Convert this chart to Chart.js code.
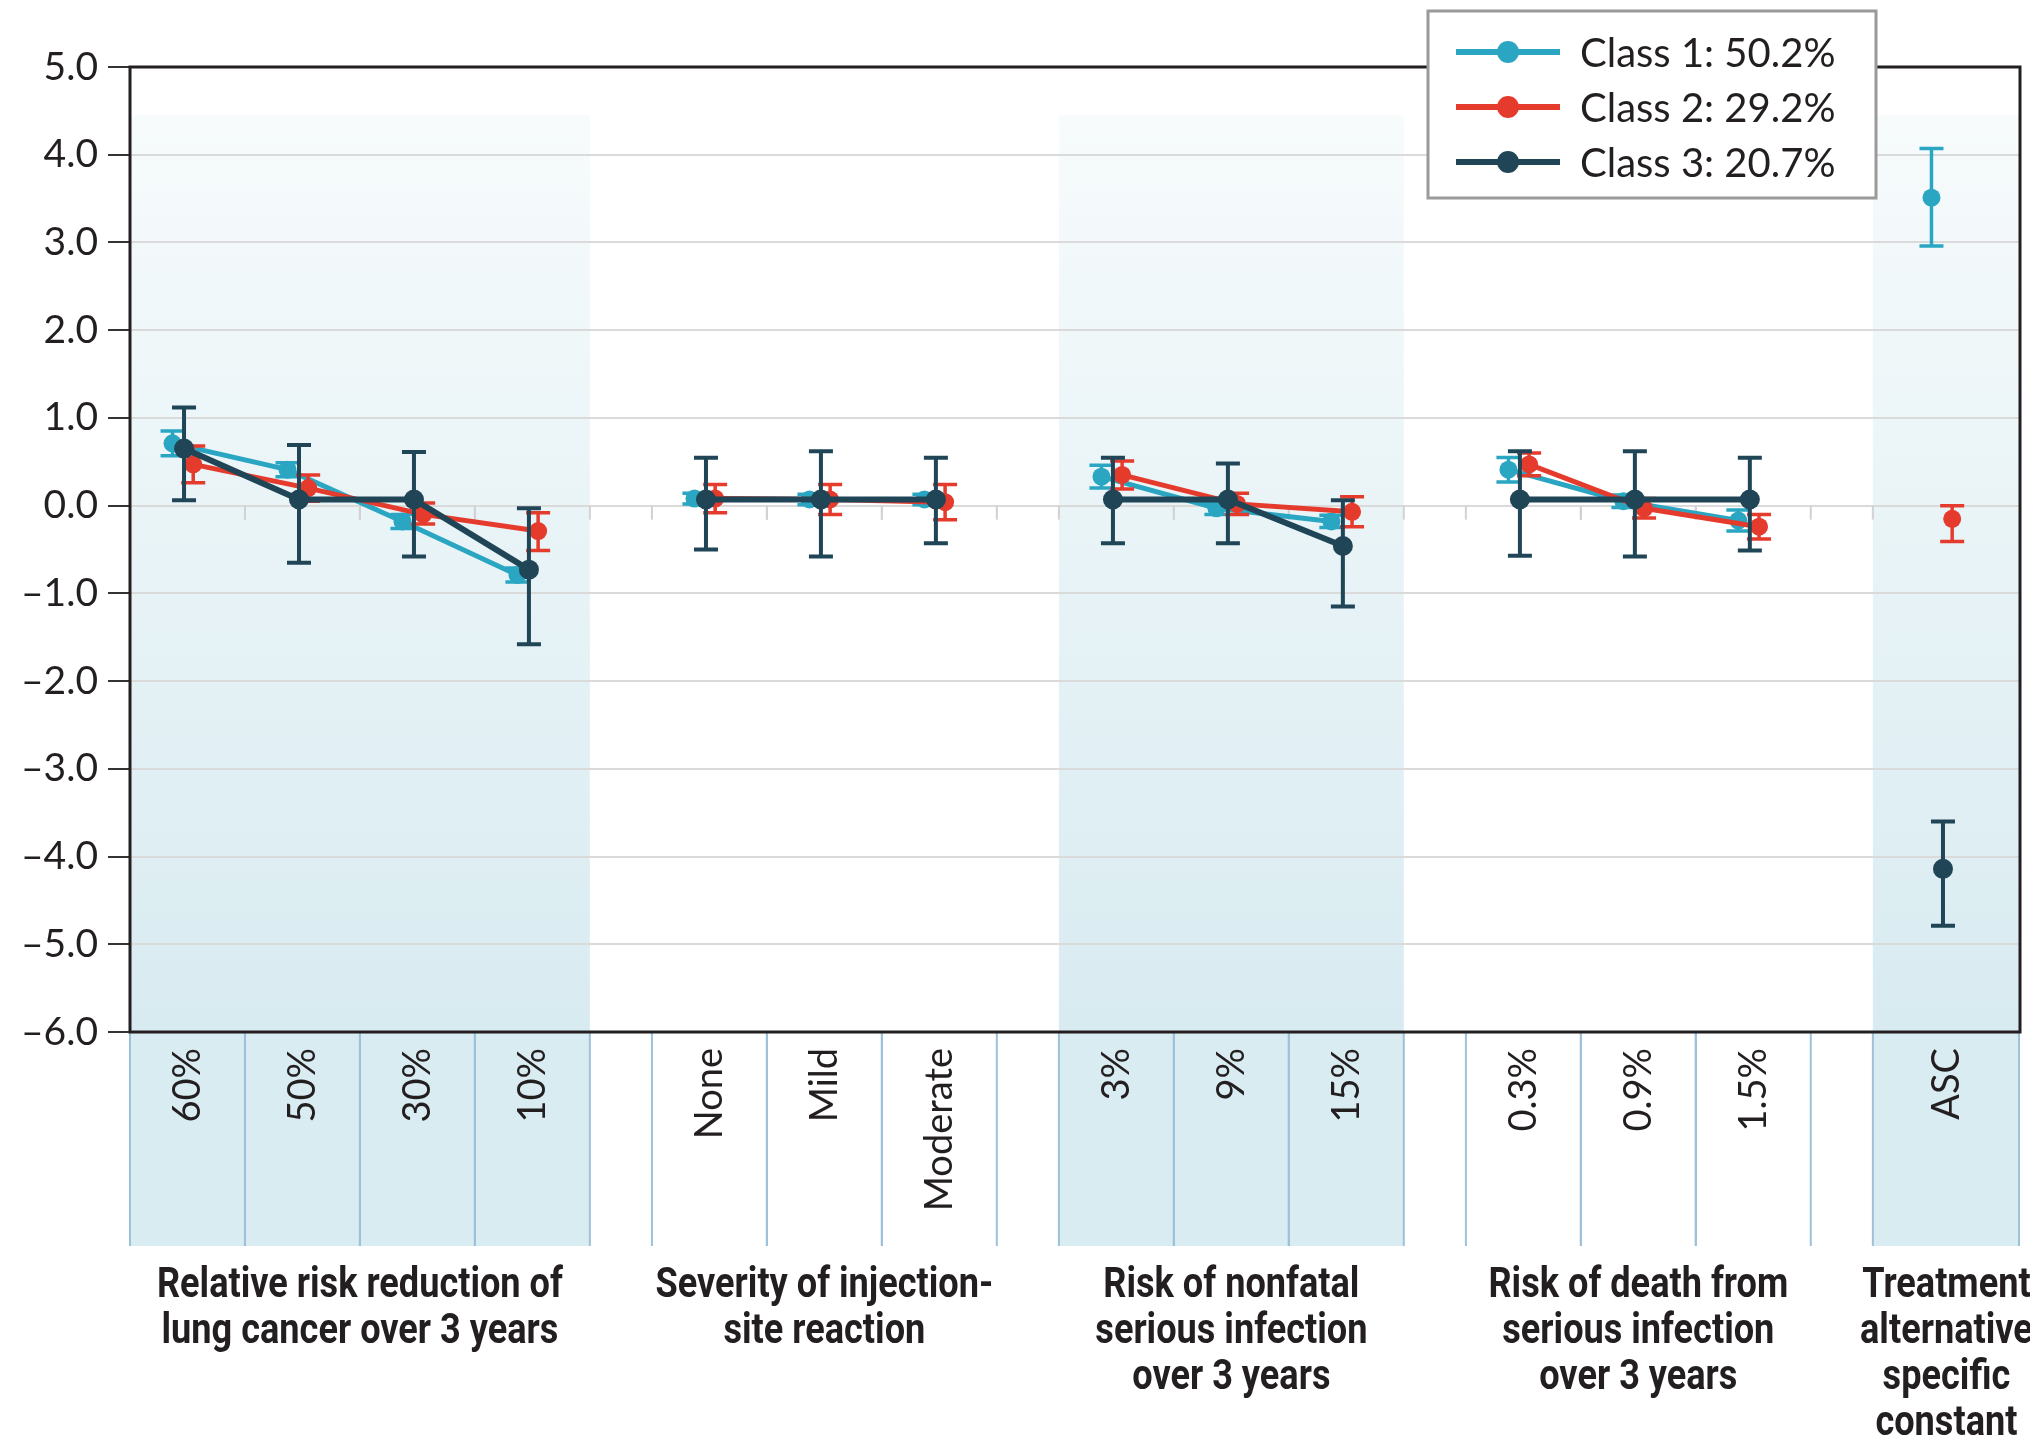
<!DOCTYPE html>
<html>
<head>
<meta charset="utf-8">
<script src="https://cdn.jsdelivr.net/npm/chart.js@4.4.1/dist/chart.umd.min.js"></script>
<style>
  html, body { margin: 0; padding: 0; background: #fff; }
  #wrap { width: 2030px; height: 1445px; position: relative; }
</style>
</head>
<body>
<div id="wrap"><canvas id="prefChart"></canvas></div>
<script>
// categories and groups
const categories = ['60%', '50%', '30%', '10%', 'None', 'Mild', 'Moderate', '3%', '9%', '15%', '0.3%', '0.9%', '1.5%', 'ASC'];
const groupSizes = [4, 3, 3, 3, 1];
const groupNames = [
    ['Relative risk reduction of', 'lung cancer over 3 years'],
    ['Severity of injection-', 'site reaction'],
    ['Risk of nonfatal', 'serious infection', 'over 3 years'],
    ['Risk of death from', 'serious infection', 'over 3 years'],
    ['Treatment', 'alternative', 'specific', 'constant']
];
const yTicks = [5, 4, 3, 2, 1, 0, -1, -2, -3, -4, -5, -6];

// series: estimate, lower and upper bound
const class1 = [0.71, 0.41, -0.18, -0.79, 0.08, 0.07, 0.07, 0.33, -0.03, -0.18, 0.41, 0.05, -0.17, 3.51];
const class1Low = [0.57, 0.33, -0.26, -0.87, 0.02, 0.01, 0.01, 0.20, -0.10, -0.25, 0.27, -0.02, -0.29, 2.96];
const class1High = [0.85, 0.49, -0.10, -0.71, 0.14, 0.13, 0.13, 0.46, 0.04, -0.11, 0.55, 0.12, -0.05, 4.07];

const class2 = [0.47, 0.20, -0.10, -0.29, 0.08, 0.07, 0.04, 0.35, 0.02, -0.07, 0.47, -0.03, -0.24, -0.15];
const class2Low = [0.26, 0.05, -0.21, -0.51, -0.08, -0.10, -0.16, 0.19, -0.10, -0.24, 0.34, -0.14, -0.38, -0.41];
const class2High = [0.68, 0.35, 0.03, -0.08, 0.24, 0.24, 0.24, 0.51, 0.14, 0.10, 0.60, 0.08, -0.10, 0.00];

const class3 = [0.65, 0.07, 0.07, -0.73, 0.07, 0.07, 0.07, 0.07, 0.07, -0.46, 0.07, 0.07, 0.07, -4.14];
const class3Low = [0.06, -0.65, -0.58, -1.58, -0.50, -0.58, -0.43, -0.43, -0.43, -1.15, -0.57, -0.58, -0.51, -4.79];
const class3High = [1.12, 0.69, 0.61, -0.03, 0.545, 0.62, 0.545, 0.545, 0.48, 0.06, 0.62, 0.62, 0.545, -3.60];

const seriesLabels = ['Class 1: 50.2%', 'Class 2: 29.2%', 'Class 3: 20.7%'];
const colors = ['#2aa6c3', '#e53b2d', '#1f4556'];

// column layout on a linear x axis (one unit per column)
const GAP = 0.54;
const X_MAX = 16.44;
const shaded = [0, 2, 4];

const cols = [];
const groups = [];
let cursor = 0;
groupSizes.forEach((n, g) => {
    const start = cursor;
    for (let i = 0; i < n; i++) {
        cols.push({ g, left: cursor, right: cursor + 1 });
        cursor += 1;
    }
    groups.push({ start, end: cursor });
    cursor += GAP;
});
cols[cols.length - 1].right = X_MAX;
groups[groups.length - 1].end = X_MAX;
cols.forEach(c => c.center = (c.left + c.right) / 2);

const offsets = [-0.13, 0.05, -0.03];

function buildPoints(values, d) {
    const pts = [];
    values.forEach((v, i) => {
        if (i > 0 && cols[i].g !== cols[i - 1].g) pts.push({ x: cols[i].left - GAP / 2, y: null });
        pts.push({ x: cols[i].center + offsets[d], y: v });
    });
    return pts;
}

const bounds = [[class1Low, class1High], [class2Low, class2High], [class3Low, class3High]];

const errorBars = {
    id: 'errorBars',
    beforeDatasetDraw(chart, args) {
        const d = args.index;
        const { ctx, scales: { x, y } } = chart;
        const [lo, hi] = bounds[d];
        ctx.save();
        ctx.strokeStyle = colors[d];
        ctx.lineWidth = d === 2 ? 4 : 3.5;
        lo.forEach((l, i) => {
            const px = x.getPixelForValue(cols[i].center + offsets[d]);
            const y1 = y.getPixelForValue(l), y2 = y.getPixelForValue(hi[i]);
            ctx.beginPath();
            ctx.moveTo(px, y1); ctx.lineTo(px, y2);
            ctx.moveTo(px - 12, y1); ctx.lineTo(px + 12, y1);
            ctx.moveTo(px - 12, y2); ctx.lineTo(px + 12, y2);
            ctx.stroke();
        });
        ctx.restore();
    }
};

const decorations = {
    id: 'decorations',
    beforeDraw(chart) {
        const { ctx, chartArea: a, scales: { x, y } } = chart;
        const bandBottom = a.bottom + 214;
        ctx.save();
        // shaded attribute bands
        const top = y.getPixelForValue(4.45);
        const grad = ctx.createLinearGradient(0, top, 0, a.bottom);
        grad.addColorStop(0, '#f7fbfc');
        grad.addColorStop(1, '#d8ebf1');
        shaded.forEach(g => {
            const x1 = x.getPixelForValue(groups[g].start), x2 = x.getPixelForValue(groups[g].end);
            ctx.fillStyle = grad;
            ctx.fillRect(x1, top, x2 - x1, a.bottom - top);
            ctx.fillStyle = '#d9ecf2';
            ctx.fillRect(x1, a.bottom, x2 - x1, bandBottom - a.bottom);
        });
        // column dividers under the axis
        ctx.strokeStyle = '#9dc1d9';
        ctx.lineWidth = 2;
        cols.forEach(c => {
            [c.left, c.right].forEach(v => {
                const px = Math.min(x.getPixelForValue(v), a.right - 1);
                ctx.beginPath();
                ctx.moveTo(px, a.bottom); ctx.lineTo(px, bandBottom);
                ctx.stroke();
            });
        });
        // rotated level labels
        ctx.fillStyle = '#231f20';
        ctx.font = '38px Lato';
        ctx.textAlign = 'right';
        ctx.textBaseline = 'middle';
        categories.forEach((lab, i) => {
            ctx.save();
            ctx.translate(x.getPixelForValue(cols[i].center), a.bottom + 16);
            ctx.rotate(-Math.PI / 2);
            ctx.fillText(lab, 0, 0);
            ctx.restore();
        });
        // attribute names
        ctx.font = 'bold 42px Roboto';
        ctx.textAlign = 'center';
        groupNames.forEach((lines, g) => {
            const cx = x.getPixelForValue((groups[g].start + groups[g].end) / 2);
            lines.forEach((t, k) => {
                ctx.save();
                ctx.translate(cx, a.bottom + 254 + k * 46);
                ctx.scale(0.86, 1);
                ctx.fillText(t, 0, 0);
                ctx.restore();
            });
        });
        ctx.restore();
    },
    beforeDatasetsDraw(chart) {
        const { ctx, scales: { x, y } } = chart;
        const y0 = y.getPixelForValue(0);
        ctx.save();
        ctx.strokeStyle = '#d2d2d2';
        ctx.lineWidth = 2;
        cols.forEach(c => {
            [c.left, c.right].forEach(v => {
                if (v <= 0 || v >= X_MAX) return;
                const px = x.getPixelForValue(v);
                ctx.beginPath();
                ctx.moveTo(px, y0); ctx.lineTo(px, y0 + 14);
                ctx.stroke();
            });
        });
        ctx.restore();
    },
    afterDraw(chart) {
        const { ctx, chartArea: a } = chart;
        ctx.save();
        ctx.strokeStyle = '#231f20';
        ctx.lineWidth = 3;
        ctx.strokeRect(a.left, a.top, a.right - a.left, a.bottom - a.top);
        // legend box
        const bx = 1428, by = 11, bw = 448, bh = 187;
        ctx.fillStyle = '#ffffff';
        ctx.fillRect(bx, by, bw, bh);
        ctx.strokeStyle = '#9a9a9a';
        ctx.strokeRect(bx, by, bw, bh);
        ctx.font = '40px Lato';
        ctx.textAlign = 'left';
        ctx.textBaseline = 'middle';
        seriesLabels.forEach((lab, i) => {
            const ry = 52 + i * 55;
            ctx.strokeStyle = colors[i];
            ctx.lineWidth = 6;
            ctx.beginPath();
            ctx.moveTo(1456, ry); ctx.lineTo(1560, ry);
            ctx.stroke();
            ctx.fillStyle = colors[i];
            ctx.beginPath();
            ctx.arc(1508, ry, 11, 0, Math.PI * 2);
            ctx.fill();
            ctx.fillStyle = '#231f20';
            ctx.fillText(lab, 1580, ry + 2);
        });
        ctx.restore();
    }
};

const datasets = [class1, class2, class3].map((vals, d) => ({
    label: seriesLabels[d],
    data: buildPoints(vals, d),
    borderColor: colors[d],
    backgroundColor: colors[d],
    borderWidth: d === 2 ? 6 : 5,
    pointRadius: d === 2 ? 10 : 9,
    pointHoverRadius: d === 2 ? 10 : 9,
    pointBorderWidth: 0,
    pointBackgroundColor: colors[d],
    spanGaps: false,
    tension: 0,
    order: 2 - d
}));

const ctx = document.getElementById('prefChart').getContext('2d');
const prefChart = new Chart(ctx, {
    type: 'line',
    data: { datasets },
    options: {
        responsive: true, maintainAspectRatio: false,
        animation: false,
        layout: { padding: { top: 67, right: 10, bottom: 413, left: 0 } },
        plugins: { legend: { display: false }, tooltip: { enabled: false } },
        scales: {
            x: { type: 'linear', display: false, min: 0, max: X_MAX },
            y: {
                min: -6, max: 5,
                afterFit: s => { s.width = 130; },
                afterBuildTicks: s => { s.ticks = yTicks.map(v => ({ value: v })); },
                border: { display: false },
                grid: { color: '#dadada', lineWidth: 2, tickColor: '#333', tickLength: 22 },
                ticks: {
                    padding: 10,
                    color: '#231f20',
                    font: { family: 'Lato', size: 39 },
                    callback: v => (v < 0 ? '\u2013' : '') + Math.abs(v).toFixed(1)
                }
            }
        }
    },
    plugins: [decorations, errorBars]
});
</script>
</body>
</html>
